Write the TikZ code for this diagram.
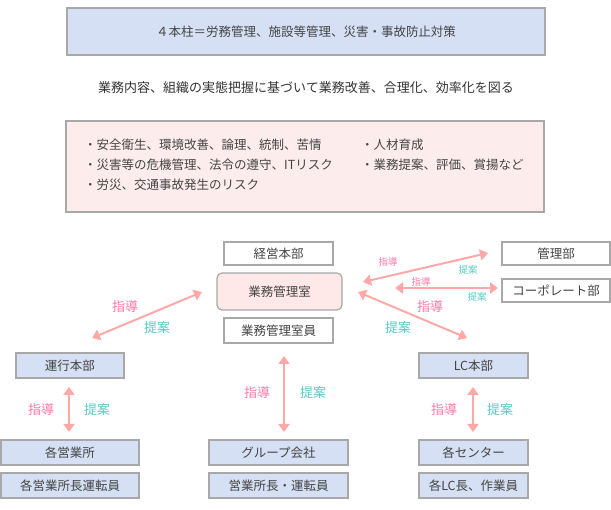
\documentclass[tikz,border=0pt]{standalone}
\usepackage{fontspec}
\setmainfont{Noto Sans CJK JP}
\usetikzlibrary{arrows.meta}
\definecolor{boxblue}{HTML}{D5E0F4}
\definecolor{boxpink}{HTML}{FDECEC}
\definecolor{roompink}{HTML}{FFE8E8}
\definecolor{edgegray}{HTML}{A8A8A8}
\definecolor{txt}{HTML}{444444}
\definecolor{arrpink}{HTML}{FFA8A8}
\definecolor{lblpink}{HTML}{FF78A8}
\definecolor{lblteal}{HTML}{58CCC4}
\tikzset{
  base/.style={draw=edgegray, line width=1.2pt, inner sep=0pt, text=txt, font=\fontsize{12.5}{14}\selectfont},
  bluebox/.style={base, fill=boxblue},
  whitebox/.style={base, fill=white},
  txtnode/.style={inner sep=0pt, text=txt, font=\fontsize{12.5}{14}\selectfont},
  arr/.style={draw=arrpink, line width=2pt, {Triangle[width=11pt,length=8pt]}-{Triangle[width=11pt,length=8pt]}},
  shido/.style={inner sep=0pt, text=lblpink, font=\fontsize{13}{14}\selectfont},
  teian/.style={inner sep=0pt, text=lblteal, font=\fontsize{13}{14}\selectfont},
  small/.style={font=\fontsize{9.5}{11}\selectfont}
}
\begin{document}
\begin{tikzpicture}[x=1pt,y=-1pt]
\useasboundingbox (0,0) rectangle (611,510);
% top
\node[bluebox, minimum width=478pt, minimum height=47pt] (pillar) at (306,31.5) {４本柱＝労務管理、施設等管理、災害・事故防止対策};
\node[txtnode, text=black!80, font=\fontsize{13}{14}\selectfont] (goal) at (306,88) {業務内容、組織の実態把握に基づいて業務改善、合理化、効率化を図る};
\node[base, fill=boxpink, minimum width=478pt, minimum height=91pt] (items) at (305,166.5) {};
\node[txtnode, anchor=west] (l1) at (84,145) {・安全衛生、環境改善、論理、統制、苦情};
\node[txtnode, anchor=west] (l2) at (84,165) {・災害等の危機管理、法令の遵守、ITリスク};
\node[txtnode, anchor=west] (l3) at (84,185) {・労災、交通事故発生のリスク};
\node[txtnode, anchor=west] (r1) at (361,145) {・人材育成};
\node[txtnode, anchor=west] (r2) at (361,165) {・業務提案、評価、賞揚など};
% center cluster
\node[whitebox, minimum width=109pt, minimum height=23pt] (keiei) at (278.5,253.5) {経営本部};
\node[base, fill=roompink, rounded corners=5pt, minimum width=125pt, minimum height=37pt] (gyomu) at (279.5,291.5) {業務管理室};
\node[whitebox, minimum width=109pt, minimum height=25pt] (gyomuin) at (278.5,330.5) {業務管理室員};
\node[whitebox, minimum width=108pt, minimum height=23pt] (kanri) at (556,253.5) {管理部};
\node[whitebox, minimum width=108pt, minimum height=23pt] (corp) at (556,290.5) {コーポレート部};
% branches
\node[bluebox, minimum width=108pt, minimum height=25pt] (unko) at (70,365.5) {運行本部};
\node[bluebox, minimum width=109pt, minimum height=25pt] (lc) at (473.5,365.5) {LC本部};
\node[bluebox, minimum width=138pt, minimum height=25pt] (eigyo) at (70,452.5) {各営業所};
\node[bluebox, minimum width=138pt, minimum height=25pt] (eigyo2) at (70,485.5) {各営業所長運転員};
\node[bluebox, minimum width=139pt, minimum height=25pt] (group) at (278.5,452.5) {グループ会社};
\node[bluebox, minimum width=139pt, minimum height=25pt] (group2) at (278.5,485.5) {営業所長・運転員};
\node[bluebox, minimum width=109pt, minimum height=25pt] (center) at (473.5,452.5) {各センター};
\node[bluebox, minimum width=109pt, minimum height=25pt] (center2) at (473.5,485.5) {各LC長、作業員};
% arrow end points
\coordinate (dl1) at (92,338);
\coordinate (dl2) at (202,292);
\coordinate (ur1) at (363,282);
\coordinate (ur2) at (488,253);
\coordinate (mr1) at (395,288);
\coordinate (mr2) at (498,288);
\coordinate (lr1) at (358,292);
\coordinate (lr2) at (467,338);
\coordinate (vl1) at (69,387);
\coordinate (vl2) at (69,432);
\coordinate (vc1) at (284,356);
\coordinate (vc2) at (284,432);
\coordinate (vr1) at (473,387);
\coordinate (vr2) at (473,432);
\draw[arr] (dl1) -- (dl2);
\draw[arr] (ur1) -- (ur2);
\draw[arr] (mr1) -- (mr2);
\draw[arr] (lr1) -- (lr2);
\draw[arr] (vl1) -- (vl2);
\draw[arr] (vc1) -- (vc2);
\draw[arr] (vr1) -- (vr2);
% labels
\node[shido] (s1) at (125,307) {指導};
\node[teian] (t1) at (157,328) {提案};
\node[shido, small] (s2) at (388,262) {指導};
\node[teian, small] (t2) at (468,270) {提案};
\node[shido, small] (s3) at (421,282) {指導};
\node[teian, small] (t3) at (477,297) {提案};
\node[shido] (s4) at (430,307) {指導};
\node[teian] (t4) at (398,328) {提案};
\node[shido] (s5) at (41,410) {指導};
\node[teian] (t5) at (97,410) {提案};
\node[shido] (s6) at (257,393) {指導};
\node[teian] (t6) at (313,393) {提案};
\node[shido] (s7) at (444,410) {指導};
\node[teian] (t7) at (500,410) {提案};
\end{tikzpicture}
\end{document}
